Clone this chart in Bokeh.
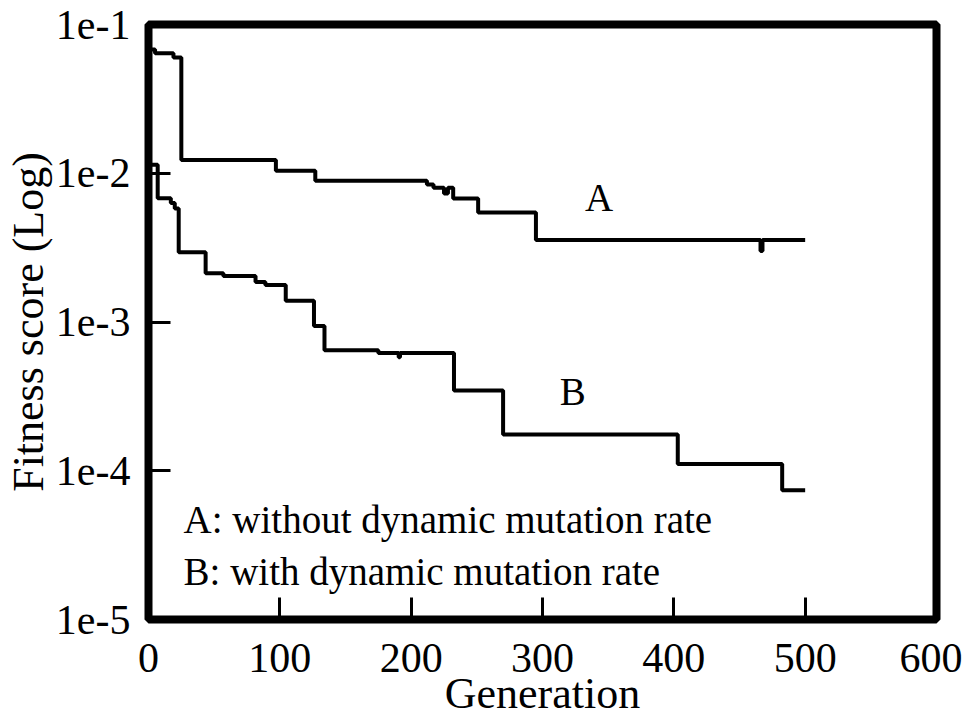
from bokeh.plotting import figure
from bokeh.models import FixedTicker, CustomJSTickFormatter, Label
from bokeh.embed import file_html
from bokeh.resources import INLINE

# ---- data ----
A_gen = [0, 5, 19, 25, 97, 127, 212, 217, 225, 228, 232, 251, 295, 466, 467.5, 500]
A_fit = [0.068, 0.064, 0.060, 0.0123, 0.0104, 0.0089, 0.0084, 0.0080, 0.0073,
         0.0080, 0.00676, 0.00544, 0.00356, 0.0030, 0.00356, 0.00356]

B_gen = [0, 7, 17, 20, 23, 43.5, 57, 81.5, 89, 104.5, 126, 134, 175, 190.5, 191.5,
         232.6, 270, 403, 482.5, 500]
B_fit = [0.0114, 0.0068, 0.0063, 0.0058, 0.00294, 0.00213, 0.00204, 0.00186,
         0.00177, 0.00139, 0.00094, 0.000645, 0.00062, 0.00058, 0.00062,
         0.000347, 0.000175, 0.000111, 0.000074, 0.000074]

x_ticks = [0, 100, 200, 300, 400, 500, 600]
y_ticks = [1e-5, 1e-4, 1e-3, 1e-2, 1e-1]

FONT = "Liberation Serif"

p = figure(width=962, height=720, x_range=(0, 600), y_range=(1e-5, 1e-1),
           y_axis_type="log", output_backend="svg", toolbar_location=None,
           min_border_left=148, min_border_right=26, min_border_top=24,
           min_border_bottom=98)

p.background_fill_color = "white"
p.border_fill_color = "white"
p.outline_line_color = "black"
p.outline_line_width = 8
p.xgrid.visible = False
p.ygrid.visible = False

for ax in (p.xaxis[0], p.yaxis[0]):
    ax.axis_line_color = None
    ax.major_tick_in = 22
    ax.major_tick_out = 0
    ax.major_tick_line_width = 3
    ax.major_tick_line_color = "black"
    ax.minor_tick_line_color = None
    ax.major_label_text_font = FONT
    ax.major_label_text_font_size = "42px"
    ax.major_label_text_color = "black"
    ax.axis_label_text_font = FONT
    ax.axis_label_text_font_size = "44px"
    ax.axis_label_text_font_style = "normal"
    ax.axis_label_text_color = "black"

p.xaxis.ticker = FixedTicker(ticks=x_ticks)
p.yaxis.ticker = FixedTicker(ticks=y_ticks)
p.yaxis.formatter = CustomJSTickFormatter(code="return '1e' + Math.round(Math.log10(tick));")
p.xaxis.axis_label = "Generation"
p.yaxis.axis_label = "Fitness score (Log)"
p.xaxis.major_label_standoff = 24
p.yaxis.major_label_standoff = 18
p.xaxis.axis_label_standoff = -6
p.yaxis.axis_label_standoff = 0

p.step(A_gen, A_fit, mode="after", line_width=4, line_color="black")
p.step(B_gen, B_fit, mode="after", line_width=4, line_color="black")

for x, y, t, al in [(343, 0.00686, "A", "center"), (323, 0.00034, "B", "center"),
                    (26.7, 4.67e-5, "A: without dynamic mutation rate", "left"),
                    (26.7, 2.1e-5, "B: with  dynamic mutation rate", "left")]:
    p.add_layout(Label(x=x, y=y, text=t, text_font=FONT, text_font_size="39px",
                       text_align=al, text_baseline="middle", text_color="black"))

open("out.html", "w").write(file_html(p, INLINE))
